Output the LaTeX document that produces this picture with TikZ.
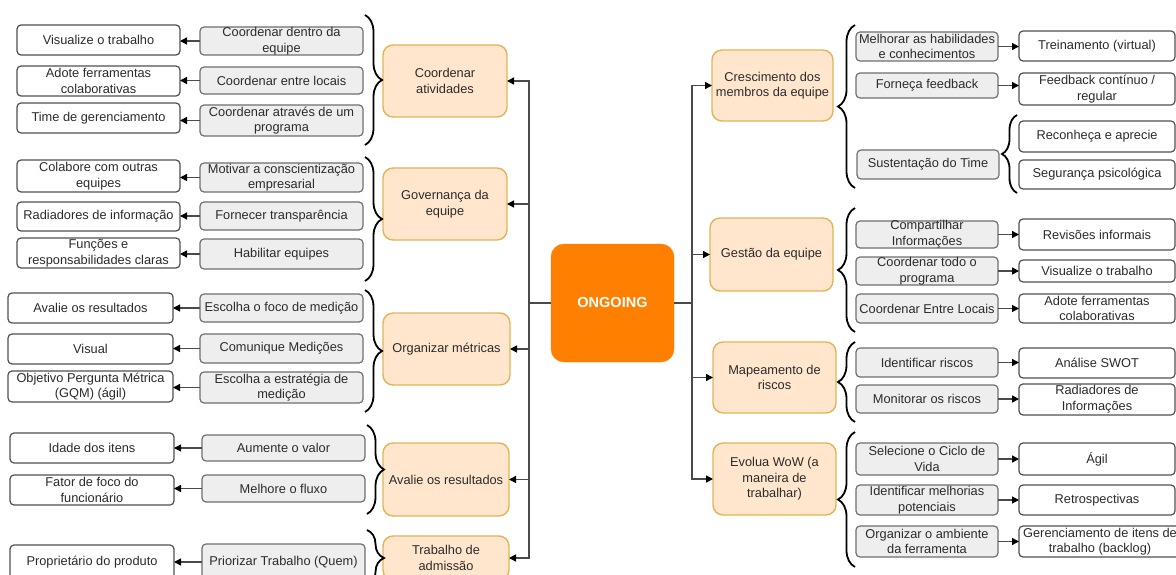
\documentclass[tikz,border=0pt]{standalone}
\usepackage{fontspec}
\setmainfont{Liberation Sans}
\usetikzlibrary{arrows.meta,decorations.pathreplacing}

\definecolor{txtcol}{HTML}{2B2B2B}
\definecolor{wline}{HTML}{505050}
\definecolor{gfill}{HTML}{EEEEEE}
\definecolor{gline}{HTML}{707070}
\definecolor{ofill}{HTML}{FFE6CC}
\definecolor{oline}{HTML}{E2B458}
\definecolor{hub}{HTML}{FF8000}
\definecolor{conncol}{HTML}{4A4A4A}

\tikzset{
  wbox/.style={draw=wline, fill=white, line width=1.2pt, rounded corners=4pt, inner sep=0pt, outer sep=0pt},
  gbox/.style={draw=gline, fill=gfill, line width=1.2pt, rounded corners=4pt, inner sep=0pt, outer sep=0pt},
  obox/.style={draw=oline, fill=ofill, line width=1.4pt, rounded corners=10pt, inner sep=0pt, outer sep=0pt},
  hubbox/.style={draw=hub, fill=hub, rounded corners=13pt, inner sep=0pt, outer sep=0pt},
  txt/.style={inner sep=0pt, align=center, text=txtcol, font=\fontsize{12.8}{15.6}\selectfont},
  arr/.style={draw=conncol, line width=1.4pt, -{Triangle[length=7pt,width=7pt,color=black]}},
  trunk/.style={draw=conncol, line width=1.5pt, -{Triangle[length=7pt,width=7pt,color=black]}},
  curly/.style={draw=black, line width=1.8pt, decorate, decoration={brace, amplitude=17pt, aspect=0.5}},
}

% box from corner (x1,y1) to corner (x2,y2), text placed on its centre
\newcommand{\bx}[7]{%
  \node[#1, minimum width={(#5)-(#3)}, minimum height={(#6)-(#4)}] (#2) at ({((#3)+(#5))/2},{((#4)+(#6))/2}) {};
  \node[txt] (#2t) at (#2.center) {#7};}

\begin{document}
\begin{tikzpicture}[x=1pt,y=-1pt]
\useasboundingbox (0,0) rectangle (1176,575);
\fill[white] (0,0) rectangle (1176,575);
\clip (0,0) rectangle (1176,575);

% ---------- hub ----------
\node[hubbox, minimum width=123pt, minimum height=118pt] (ong) at (612.5,303) {};
\node[inner sep=0pt, text=white, font=\fontsize{14.5}{16}\selectfont\bfseries] (ongt) at (ong.center) {ONGOING};

% ---------- left branches ----------
\bx{obox}{O1}{383}{45}{507}{117}{Coordenar\\atividades}
\bx{obox}{O2}{383}{168}{507}{240}{Governança da\\equipe}
\bx{obox}{O3}{383}{313}{510}{385}{Organizar métricas}
\bx{obox}{O4}{383}{443}{509}{516}{Avalie os resultados}
\bx{obox}{O5}{383}{536}{509}{580}{Trabalho de\\admissão}

\bx{gbox}{G1a}{200}{27}{363}{55}{Coordenar dentro da\\equipe}
\bx{gbox}{G1b}{200}{67}{363}{94}{Coordenar entre locais}
\bx{gbox}{G1c}{200}{105}{363}{136}{Coordenar através de um\\programa}
\bx{wbox}{W1a}{17}{25}{180}{55}{Visualize o trabalho}
\bx{wbox}{W1b}{17}{66}{180}{96}{Adote ferramentas\\colaborativas}
\bx{wbox}{W1c}{17}{103}{180}{133}{Time de gerenciamento}

\bx{gbox}{G2a}{200}{163}{363}{192}{Motivar a conscientização\\empresarial}
\bx{gbox}{G2b}{200}{202}{363}{230}{Fornecer transparência}
\bx{gbox}{G2c}{200}{239}{363}{269}{Habilitar equipes}
\bx{wbox}{W2a}{17}{160}{180}{192}{Colabore com outras\\equipes}
\bx{wbox}{W2b}{17}{202}{180}{231}{Radiadores de informação}
\bx{wbox}{W2c}{17}{238}{180}{268}{Funções e\\responsabilidades claras}

\bx{gbox}{G3a}{200}{294}{363}{322}{Escolha o foco de medição}
\bx{gbox}{G3b}{200}{334}{363}{363}{Comunique Medições}
\bx{gbox}{G3c}{200}{372}{363}{403}{Escolha a estratégia de\\medição}
\bx{wbox}{W3a}{8}{293}{173}{323}{Avalie os resultados}
\bx{wbox}{W3b}{8}{334}{173}{364}{Visual}
\bx{wbox}{W3c}{8}{371}{173}{402}{Objetivo Pergunta Métrica\\(GQM) (ágil)}

\bx{gbox}{G4a}{202}{435}{365}{461}{Aumente o valor}
\bx{gbox}{G4b}{202}{475}{365}{502}{Melhore o fluxo}
\bx{wbox}{W4a}{10}{433}{174}{463}{Idade dos itens}
\bx{wbox}{W4b}{10}{475}{174}{505}{Fator de foco do\\funcionário}

\bx{gbox}{G5a}{202}{544}{365}{580}{Priorizar Trabalho (Quem)}
\bx{wbox}{W5a}{10}{545}{174}{580}{Proprietário do produto}

% ---------- right branches ----------
\bx{obox}{R1}{712}{50}{833}{121}{Crescimento dos\\membros da equipe}
\bx{obox}{R2}{710}{218}{833}{291}{Gestão da equipe}
\bx{obox}{R3}{713}{342}{836}{413}{Mapeamento de\\riscos}
\bx{obox}{R4}{713}{443}{836}{515}{Evolua WoW (a\\maneira de\\trabalhar)}

\bx{gbox}{H1a}{856}{32}{998}{61}{Melhorar as habilidades\\e conhecimentos}
\bx{gbox}{H1b}{856}{73}{998}{98}{Forneça feedback}
\bx{gbox}{H1c}{857}{150}{999}{179}{Sustentação do Time}
\bx{wbox}{V1a}{1019}{31}{1175}{61}{Treinamento (virtual)}
\bx{wbox}{V1b}{1019}{73}{1175}{105}{Feedback contínuo /\\regular}
\bx{wbox}{V1c}{1019}{121}{1175}{152}{Reconheça e aprecie}
\bx{wbox}{V1d}{1019}{160}{1175}{189}{Segurança psicológica}

\bx{gbox}{H2a}{856}{221}{998}{248}{Compartilhar\\Informações}
\bx{gbox}{H2b}{856}{257}{998}{285}{Coordenar todo o\\programa}
\bx{gbox}{H2c}{856}{294}{998}{323}{Coordenar Entre Locais}
\bx{wbox}{V2a}{1019}{219}{1175}{250}{Revisões informais}
\bx{wbox}{V2b}{1019}{260}{1175}{282}{Visualize o trabalho}
\bx{wbox}{V2c}{1019}{294}{1175}{323}{Adote ferramentas\\colaborativas}

\bx{gbox}{H3a}{856}{348}{998}{377}{Identificar riscos}
\bx{gbox}{H3b}{856}{385}{998}{413}{Monitorar os riscos}
\bx{wbox}{V3a}{1019}{348}{1175}{378}{Análise SWOT}
\bx{wbox}{V3b}{1019}{384}{1175}{415}{Radiadores de\\Informações}

\bx{gbox}{H4a}{856}{443}{998}{475}{Selecione o Ciclo de\\Vida}
\bx{gbox}{H4b}{856}{485}{998}{515}{Identificar melhorias\\potenciais}
\bx{gbox}{H4c}{856}{526}{998}{557}{Organizar o ambiente\\da ferramenta}
\bx{wbox}{V4a}{1019}{443}{1175}{475}{Ágil}
\bx{wbox}{V4b}{1019}{485}{1175}{515}{Retrospectivas}
\bx{wbox}{V4c}{1019}{526}{1181}{557}{Gerenciamento de itens de\\trabalho (backlog)}

% ---------- hub connectors ----------
\foreach \t in {O1,O2,O3,O4,O5}
  \draw[trunk] (ong.west) -- ++(-22,0) |- (\t.east);
\foreach \t in {R1,R2,R3,R4}
  \draw[trunk] (ong.east) -- ++(18,0) |- (\t.west);

% ---------- leaf arrows ----------
\foreach \g/\w in {G1a/W1a,G1b/W1b,G1c/W1c,G2a/W2a,G2b/W2b,G2c/W2c,
                   G3a/W3a,G3b/W3b,G3c/W3c,G4a/W4a,G4b/W4b,G5a/W5a}
  \draw[arr] (\g.west) -- (\g.west -| \w.east);
\foreach \g/\w in {H1a/V1a,H1b/V1b,H2a/V2a,H2b/V2b,H2c/V2c,
                   H3a/V3a,H3b/V3b,H4a/V4a,H4b/V4b,H4c/V4c}
  \draw[arr] (\g.east) -- (\g.east -| \w.west);

% ---------- braces ----------
\draw[curly] (365,15) -- (365,145);
\draw[curly] (365,157) -- (365,281);
\draw[curly] (365,290) -- (365,412);
\draw[curly] (367,425) -- (367,514);
\draw[curly] (367,530) -- (367,586);

\draw[curly] (855,188) -- (855,25);
\draw[curly] (855,332) -- (855,208);
\draw[curly] (855,422) -- (855,342);
\draw[curly] (855,567) -- (855,432);
\draw[curly, decoration={brace, amplitude=15pt, aspect=0.5}] (1017,193) -- (1017,115);
\end{tikzpicture}
\end{document}
